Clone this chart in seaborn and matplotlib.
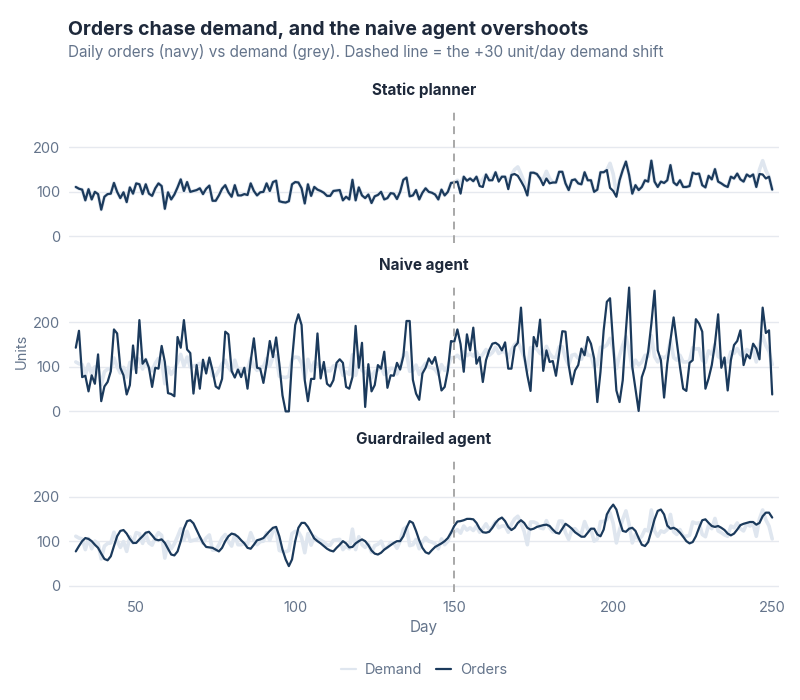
import numpy as np
import pandas as pd
import matplotlib
matplotlib.use("Agg")
import matplotlib.pyplot as plt
import seaborn as sns
from matplotlib.lines import Line2D

days = list(range(31, 251))

static_orders = [
    111, 107, 105, 81, 106, 83, 100, 95, 60, 89, 95, 96, 120, 100, 86, 99, 77, 110, 96, 119,
    117, 95, 117, 96, 91, 108, 119, 113, 62, 99, 83, 94, 110, 128, 102, 122, 100, 102, 104, 108,
    95, 107, 114, 80, 80, 92, 107, 115, 99, 89, 115, 92, 92, 95, 93, 119, 102, 92, 99, 100,
    119, 102, 122, 125, 79, 77, 76, 79, 117, 122, 121, 108, 74, 117, 91, 111, 105, 102, 98, 91,
    91, 102, 103, 104, 81, 89, 83, 127, 81, 110, 92, 86, 94, 75, 90, 93, 100, 83, 86, 97,
    96, 84, 100, 127, 132, 90, 92, 104, 83, 98,
    108, 100, 98, 94, 83, 105, 92, 100, 120, 121, 123, 96, 134, 125, 130, 124, 134, 113, 111, 139,
    126, 126, 144, 123, 134, 134, 106, 138, 140, 136, 124, 111, 92, 143, 143, 140, 130, 115, 130, 119,
    121, 121, 145, 145, 119, 104, 126, 128, 119, 117, 144, 126, 126, 100, 105, 144, 144, 149, 109, 102,
    89, 126, 149, 168, 138, 96, 115, 104, 111, 126, 123, 170, 123, 111, 123, 120, 126, 160, 121, 115,
    126, 111, 111, 113, 143, 140, 141, 115, 110, 136, 128, 151, 123, 119, 114, 111, 134, 130, 141, 128,
    123, 139, 134, 139, 111, 140, 139, 130, 134, 105,
]

demand = [
    111, 107, 105, 81, 106, 83, 100, 95, 60, 89, 95, 96, 120, 100, 86, 99, 77, 110, 96, 119,
    117, 95, 117, 96, 91, 108, 119, 113, 62, 99, 83, 94, 110, 128, 102, 122, 100, 102, 104, 108,
    95, 107, 114, 80, 80, 92, 107, 115, 99, 89, 115, 92, 92, 95, 93, 119, 102, 92, 99, 100,
    119, 102, 122, 125, 79, 77, 76, 79, 117, 122, 121, 108, 74, 117, 91, 111, 105, 102, 98, 91,
    91, 102, 103, 104, 81, 89, 83, 127, 81, 110, 92, 86, 94, 75, 90, 93, 100, 83, 86, 97,
    96, 84, 100, 127, 132, 90, 92, 104, 83, 98,
    108, 100, 98, 94, 83, 105, 92, 100, 120, 121, 126, 118, 134, 125, 130, 124, 134, 120, 128, 139,
    126, 132, 144, 130, 134, 134, 120, 138, 150, 156, 140, 122, 92, 143, 143, 140, 130, 128, 146, 130,
    121, 121, 145, 145, 119, 104, 126, 128, 119, 117, 144, 126, 126, 100, 105, 144, 144, 149, 164, 140,
    96, 126, 149, 168, 138, 96, 115, 104, 111, 126, 123, 170, 123, 111, 123, 120, 126, 160, 121, 115,
    126, 111, 111, 113, 143, 140, 141, 115, 110, 136, 128, 151, 123, 119, 114, 111, 134, 130, 141, 128,
    123, 139, 134, 139, 111, 150, 170, 148, 134, 105,
]

naive_orders = [
    143, 181, 77, 80, 45, 81, 62, 128, 23, 56, 66, 90, 184, 175, 98, 81, 38, 59, 148, 86,
    205, 107, 117, 98, 55, 98, 96, 147, 111, 41, 39, 34, 167, 143, 205, 139, 131, 40, 104, 51,
    116, 85, 121, 92, 56, 51, 73, 179, 173, 91, 76, 94, 77, 98, 51, 113, 164, 98, 96, 64,
    106, 158, 122, 166, 107, 36, 0, 0, 115, 194, 218, 194, 70, 23, 73, 73, 175, 74, 111, 62,
    56, 70, 109, 117, 109, 55, 51, 77, 192, 98, 154, 10, 106, 45, 59, 104, 96, 134, 53, 81,
    80, 109, 94, 124, 203, 203, 71, 40, 26,
    85, 98, 119, 107, 122, 89, 47, 55, 92, 158, 156, 184, 151, 89, 173, 137, 188, 107, 122, 66,
    115, 137, 152, 154, 149, 137, 155, 96, 96, 145, 154, 233, 126, 81, 46, 167, 146, 206, 91, 137,
    111, 113, 80, 130, 180, 179, 104, 61, 92, 104, 141, 126, 167, 152, 119, 21, 89, 182, 246, 254,
    149, 47, 21, 70, 182, 278, 100, 51, 1, 77, 98, 134, 197, 271, 137, 115, 31, 107, 160, 211,
    156, 100, 51, 46, 109, 115, 207, 197, 179, 51, 74, 104, 152, 218, 98, 121, 47, 115, 149, 158,
    182, 104, 128, 119, 152, 141, 117, 233, 176, 182, 38,
]

guard_orders = [
    77, 89, 100, 107, 105, 100, 92, 85, 72, 60, 57, 66, 89, 111, 123, 125, 117, 105, 96, 96,
    104, 111, 119, 121, 113, 104, 102, 104, 96, 83, 70, 68, 77, 100, 128, 145, 147, 140, 125, 110,
    96, 87, 86, 85, 81, 77, 85, 100, 111, 117, 115, 110, 102, 95, 85, 83, 92, 102, 104, 107,
    115, 123, 130, 132, 111, 81, 59, 44, 59, 100, 130, 141, 141, 132, 119, 106, 100, 95, 89, 83,
    79, 77, 85, 92, 100, 95, 86, 87, 95, 100, 104, 100, 91, 79, 72, 70, 74, 81, 86, 91,
    96, 100, 100, 111, 130, 145, 141, 123, 102,
    85, 75, 72, 80, 87, 91, 95, 100, 107, 119, 134, 144, 145, 147, 150, 150, 149, 141, 128, 120,
    119, 121, 130, 141, 149, 153, 145, 132, 125, 130, 141, 147, 141, 130, 126, 128, 132, 134, 136, 137,
    134, 126, 119, 117, 128, 139, 134, 128, 120, 115, 110, 110, 119, 128, 128, 115, 111, 126, 160, 173,
    182, 171, 145, 123, 121, 128, 130, 123, 107, 92, 89, 98, 123, 149, 168, 171, 160, 135, 128, 130,
    126, 119, 110, 100, 95, 98, 111, 130, 147, 149, 141, 134, 132, 134, 130, 125, 117, 113, 117, 126,
    136, 139, 141, 143, 143, 137, 141, 156, 164, 164, 153,
]

panel_titles = ["Static planner", "Naive agent", "Guardrailed agent"]
orders_series = [static_orders, naive_orders, guard_orders]
shift_day = 150
y_ticks = [0, 100, 200]
x_ticks = [50, 100, 150, 200, 250]

NAVY = "#1b3a5c"
GREY = "#dfe6ef"
TEXT = "#1e293b"
MUTED = "#64748b"
GRID = "#e6e9ef"

sns.set_theme(style="white")
plt.rcParams["font.family"] = ["Inter", "DejaVu Sans"]

fig = plt.figure(figsize=(8, 7), dpi=100)
left, width = 0.086, 0.888
bottoms = [0.653, 0.403, 0.154]
height = 0.19
axes = []
for i, (title, orders) in enumerate(zip(panel_titles, orders_series)):
    ax = fig.add_axes([left, bottoms[i], width, height])
    axes.append(ax)
    df = pd.DataFrame({"day": days, "demand": demand, "orders": orders})
    sns.lineplot(data=df, x="day", y="demand", ax=ax, color=GREY, lw=2.6, zorder=2)
    sns.lineplot(data=df, x="day", y="orders", ax=ax, color=NAVY, lw=1.6, zorder=3)
    ax.axvline(shift_day, color="#a8a8a8", lw=1.4, ls=(0, (4, 3)), zorder=4)
    ax.set_xlim(28.8, 252.2)
    ax.set_ylim(-14.6, 284)
    ax.set_yticks(y_ticks)
    ax.set_xticks(x_ticks)
    ax.yaxis.grid(True, color=GRID, lw=1)
    ax.xaxis.grid(False)
    for s in ax.spines.values():
        s.set_visible(False)
    ax.tick_params(axis="both", length=0, labelsize=10.5, labelcolor=MUTED, pad=6)
    ax.set_title(title, fontsize=11, fontweight="bold", color=TEXT, pad=11)
    ax.set_ylabel("")
    ax.set_xlabel("")
    if i < 2:
        ax.set_xticklabels([])

axes[1].set_ylabel("Units", fontsize=10.5, color=MUTED, labelpad=3)
axes[2].set_xlabel("Day", fontsize=11, color=MUTED, labelpad=4)

fig.text(0.085, 0.958, "Orders chase demand, and the naive agent overshoots",
         fontsize=14, fontweight="bold", color=TEXT, ha="left", va="center")
fig.text(0.085, 0.926, "Daily orders (navy) vs demand (grey). Dashed line = the +30 unit/day demand shift",
         fontsize=11, color=MUTED, ha="left", va="center")

handles = [Line2D([0], [0], color=GREY, lw=1.6), Line2D([0], [0], color=NAVY, lw=1.6)]
leg = fig.legend(handles, ["Demand", "Orders"], loc="center", bbox_to_anchor=(0.53, 0.043),
                 ncol=2, frameon=False, fontsize=10.5, handlelength=1.0, handletextpad=0.6,
                 columnspacing=1.0)
for t in leg.get_texts():
    t.set_color(MUTED)

fig.savefig("out.png", dpi=100, facecolor="white")
